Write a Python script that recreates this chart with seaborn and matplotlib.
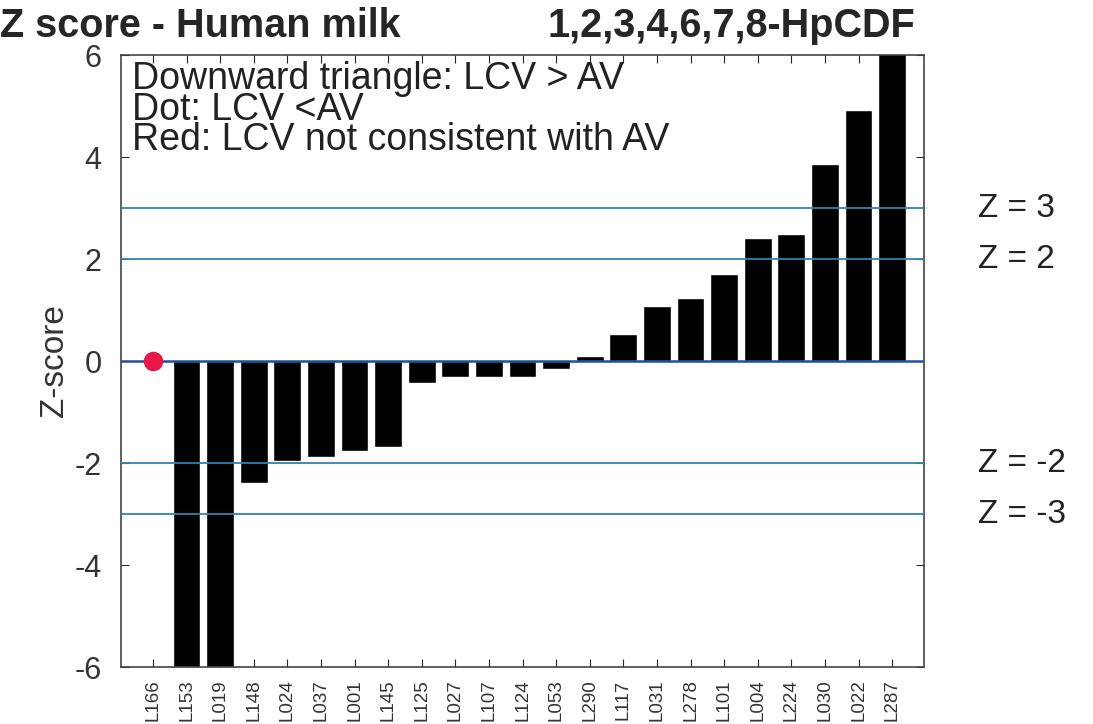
import pandas as pd
import seaborn as sns
import matplotlib.pyplot as plt

# Data
labs = ['L166', 'L153', 'L019', 'L148', 'L024', 'L037', 'L001', 'L145', 'L125', 'L027', 'L107',
        'L124', 'L053', 'L290', 'L117', 'L031', 'L278', 'L101', 'L004', 'L224', 'L030', 'L022', 'L287']
zvals = [0.0, -7.5, -7.5, -2.4, -1.97, -1.89, -1.77, -1.69, -0.43, -0.31, -0.32,
         -0.32, -0.16, 0.09, 0.53, 1.08, 1.24, 1.71, 2.41, 2.49, 3.86, 4.92, 6.5]
dot_labs = ['L166']
dot_vals = [0.0]
zlines = [3, 2, -2, -3]
zline_labels = ['Z = 3', 'Z = 2', 'Z = -2', 'Z = -3']

df = pd.DataFrame({'lab': labs, 'z': zvals})
dots = pd.DataFrame({'lab': dot_labs, 'z': dot_vals})

sns.set_style('white')
plt.rcParams['font.family'] = ['Liberation Sans', 'DejaVu Sans']
plt.rcParams['axes.unicode_minus'] = False

fig = plt.figure(figsize=(10.93, 7.24), dpi=100)
ax = fig.add_axes([0.1107, 0.0787, 0.7347, 0.8453])

sns.barplot(data=df, x='lab', y='z', order=labs, color='black', saturation=1,
            width=0.83, ax=ax, zorder=2)
sns.scatterplot(data=dots, x='lab', y='z', color='#e8174a', s=170, marker='o',
                edgecolor='#e8174a', ax=ax, zorder=4, clip_on=False)

for v in zlines:
    ax.axhline(v, color='#2f86a6', lw=1.3, zorder=3)
ax.axhline(0, color='#1f4e9a', lw=1.8, zorder=3)

ax.set_ylim(-6, 6)
ax.set_xlim(-0.95, len(labs) - 0.05)
ax.set_yticks([-6, -4, -2, 0, 2, 4, 6])
ax.set_xlabel('')
ax.set_ylabel('Z-score', fontsize=24, color='#333333', labelpad=3)
ax.tick_params(axis='y', direction='in', length=6, pad=14, labelsize=22, labelcolor='#333333',
               right=True, left=True)
ax.tick_params(axis='x', direction='in', length=6, pad=9, labelsize=13.5, labelcolor='#333333',
               top=True, bottom=True, rotation=90)
for s in ax.spines.values():
    s.set_color('#444444')
    s.set_linewidth(1.2)

for v, t in zip(zlines, zline_labels):
    ax.text(1.067, v, t, transform=ax.get_yaxis_transform(), fontsize=24,
            color='#222222', va='center', ha='left')

notes = ['Downward triangle: LCV > AV', 'Dot: LCV <AV', 'Red: LCV not consistent with AV']
ax.text(0.014, 0.99, '\n'.join(notes), transform=ax.transAxes, fontsize=27,
        color='#222222', va='top', ha='left', linespacing=0.8, zorder=5)

fig.text(0.0, 1 - 37 / 724, 'Z score - Human milk', fontsize=28.5, fontweight='bold',
         ha='left', va='baseline')
fig.text(915 / 1093, 1 - 37 / 724, '1,2,3,4,6,7,8-HpCDF', fontsize=28.5, fontweight='bold',
         ha='right', va='baseline')

fig.savefig('out.png', dpi=100)
